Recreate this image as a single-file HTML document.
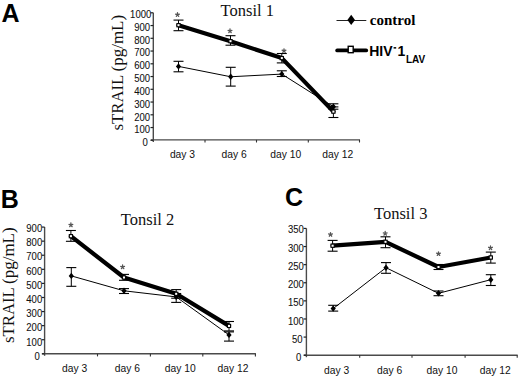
<!DOCTYPE html>
<html><head><meta charset="utf-8"><style>
html,body{margin:0;padding:0;background:#fff;width:520px;height:383px;overflow:hidden;}
svg{display:block;}
</style></head><body>
<svg width="520" height="383" viewBox="0 0 520 383">
<rect width="520" height="383" fill="#fff"/>
<line x1="153.3" y1="12.8" x2="153.3" y2="141.9" stroke="#4a4a4a" stroke-width="1.4" stroke-linecap="butt"/>
<line x1="150.8" y1="139.9" x2="360.0" y2="139.9" stroke="#4a4a4a" stroke-width="1.4" stroke-linecap="butt"/>
<line x1="150.5" y1="140.3" x2="153.3" y2="140.3" stroke="#222" stroke-width="1.2" stroke-linecap="butt"/>
<text transform="translate(147.70 146.30) scale(0.9 1)" style="font-family:&quot;Liberation Sans&quot;,sans-serif;font-size:10.6px" text-anchor="end" fill="#111" stroke="#111" stroke-width="0.08">0</text>
<line x1="150.5" y1="127.55000000000001" x2="153.3" y2="127.55000000000001" stroke="#222" stroke-width="1.2" stroke-linecap="butt"/>
<text transform="translate(150.10 133.45) scale(0.9 1)" style="font-family:&quot;Liberation Sans&quot;,sans-serif;font-size:10.6px" text-anchor="end" fill="#111" stroke="#111" stroke-width="0.08">100</text>
<line x1="150.5" y1="114.80000000000001" x2="153.3" y2="114.80000000000001" stroke="#222" stroke-width="1.2" stroke-linecap="butt"/>
<text transform="translate(150.10 120.60) scale(0.9 1)" style="font-family:&quot;Liberation Sans&quot;,sans-serif;font-size:10.6px" text-anchor="end" fill="#111" stroke="#111" stroke-width="0.08">200</text>
<line x1="150.5" y1="102.05000000000001" x2="153.3" y2="102.05000000000001" stroke="#222" stroke-width="1.2" stroke-linecap="butt"/>
<text transform="translate(150.10 107.75) scale(0.9 1)" style="font-family:&quot;Liberation Sans&quot;,sans-serif;font-size:10.6px" text-anchor="end" fill="#111" stroke="#111" stroke-width="0.08">300</text>
<line x1="150.5" y1="89.30000000000001" x2="153.3" y2="89.30000000000001" stroke="#222" stroke-width="1.2" stroke-linecap="butt"/>
<text transform="translate(150.10 94.90) scale(0.9 1)" style="font-family:&quot;Liberation Sans&quot;,sans-serif;font-size:10.6px" text-anchor="end" fill="#111" stroke="#111" stroke-width="0.08">400</text>
<line x1="150.5" y1="76.55000000000001" x2="153.3" y2="76.55000000000001" stroke="#222" stroke-width="1.2" stroke-linecap="butt"/>
<text transform="translate(150.10 82.05) scale(0.9 1)" style="font-family:&quot;Liberation Sans&quot;,sans-serif;font-size:10.6px" text-anchor="end" fill="#111" stroke="#111" stroke-width="0.08">500</text>
<line x1="150.5" y1="63.80000000000001" x2="153.3" y2="63.80000000000001" stroke="#222" stroke-width="1.2" stroke-linecap="butt"/>
<text transform="translate(150.10 69.20) scale(0.9 1)" style="font-family:&quot;Liberation Sans&quot;,sans-serif;font-size:10.6px" text-anchor="end" fill="#111" stroke="#111" stroke-width="0.08">600</text>
<line x1="150.5" y1="51.05000000000001" x2="153.3" y2="51.05000000000001" stroke="#222" stroke-width="1.2" stroke-linecap="butt"/>
<text transform="translate(150.10 56.35) scale(0.9 1)" style="font-family:&quot;Liberation Sans&quot;,sans-serif;font-size:10.6px" text-anchor="end" fill="#111" stroke="#111" stroke-width="0.08">700</text>
<line x1="150.5" y1="38.30000000000001" x2="153.3" y2="38.30000000000001" stroke="#222" stroke-width="1.2" stroke-linecap="butt"/>
<text transform="translate(150.10 43.50) scale(0.9 1)" style="font-family:&quot;Liberation Sans&quot;,sans-serif;font-size:10.6px" text-anchor="end" fill="#111" stroke="#111" stroke-width="0.08">800</text>
<line x1="150.5" y1="25.55000000000001" x2="153.3" y2="25.55000000000001" stroke="#222" stroke-width="1.2" stroke-linecap="butt"/>
<text transform="translate(150.10 30.65) scale(0.9 1)" style="font-family:&quot;Liberation Sans&quot;,sans-serif;font-size:10.6px" text-anchor="end" fill="#111" stroke="#111" stroke-width="0.08">900</text>
<line x1="150.5" y1="12.800000000000011" x2="153.3" y2="12.800000000000011" stroke="#222" stroke-width="1.2" stroke-linecap="butt"/>
<text transform="translate(151.30 17.80) scale(0.9 1)" style="font-family:&quot;Liberation Sans&quot;,sans-serif;font-size:10.6px" text-anchor="end" fill="#111" stroke="#111" stroke-width="0.08">1000</text>
<line x1="205" y1="139.9" x2="205" y2="142.5" stroke="#333" stroke-width="1.1" stroke-linecap="butt"/>
<line x1="256.5" y1="139.9" x2="256.5" y2="142.5" stroke="#333" stroke-width="1.1" stroke-linecap="butt"/>
<line x1="308.3" y1="139.9" x2="308.3" y2="142.5" stroke="#333" stroke-width="1.1" stroke-linecap="butt"/>
<line x1="359.5" y1="139.9" x2="359.5" y2="142.5" stroke="#333" stroke-width="1.1" stroke-linecap="butt"/>
<text x="182.5" y="158.1" style="font-family:&quot;Liberation Sans&quot;,sans-serif;font-size:10.3px;font-weight:normal" text-anchor="middle" fill="#111" >day 3</text>
<text x="234.1" y="158.1" style="font-family:&quot;Liberation Sans&quot;,sans-serif;font-size:10.3px;font-weight:normal" text-anchor="middle" fill="#111" >day 6</text>
<text x="285.8" y="158.1" style="font-family:&quot;Liberation Sans&quot;,sans-serif;font-size:10.3px;font-weight:normal" text-anchor="middle" fill="#111" >day 10</text>
<text x="337.7" y="158.1" style="font-family:&quot;Liberation Sans&quot;,sans-serif;font-size:10.3px;font-weight:normal" text-anchor="middle" fill="#111" >day 12</text>
<line x1="178.5" y1="61.3" x2="178.5" y2="71.8" stroke="#000" stroke-width="1" stroke-linecap="butt"/>
<line x1="173.5" y1="61.3" x2="183.5" y2="61.3" stroke="#000" stroke-width="1.1" stroke-linecap="butt"/>
<line x1="173.5" y1="71.8" x2="183.5" y2="71.8" stroke="#000" stroke-width="1.1" stroke-linecap="butt"/>
<line x1="230.7" y1="67.3" x2="230.7" y2="86.1" stroke="#000" stroke-width="1" stroke-linecap="butt"/>
<line x1="225.7" y1="67.3" x2="235.7" y2="67.3" stroke="#000" stroke-width="1.1" stroke-linecap="butt"/>
<line x1="225.7" y1="86.1" x2="235.7" y2="86.1" stroke="#000" stroke-width="1.1" stroke-linecap="butt"/>
<line x1="281.8" y1="70.8" x2="281.8" y2="76.5" stroke="#000" stroke-width="1" stroke-linecap="butt"/>
<line x1="276.8" y1="70.8" x2="286.8" y2="70.8" stroke="#000" stroke-width="1.1" stroke-linecap="butt"/>
<line x1="276.8" y1="76.5" x2="286.8" y2="76.5" stroke="#000" stroke-width="1.1" stroke-linecap="butt"/>
<line x1="333.4" y1="103.8" x2="333.4" y2="109.2" stroke="#000" stroke-width="1" stroke-linecap="butt"/>
<line x1="328.4" y1="103.8" x2="338.4" y2="103.8" stroke="#000" stroke-width="1.1" stroke-linecap="butt"/>
<line x1="328.4" y1="109.2" x2="338.4" y2="109.2" stroke="#000" stroke-width="1.1" stroke-linecap="butt"/>
<line x1="178.5" y1="20.1" x2="178.5" y2="30.7" stroke="#000" stroke-width="1" stroke-linecap="butt"/>
<line x1="173.5" y1="20.1" x2="183.5" y2="20.1" stroke="#000" stroke-width="1.1" stroke-linecap="butt"/>
<line x1="173.5" y1="30.7" x2="183.5" y2="30.7" stroke="#000" stroke-width="1.1" stroke-linecap="butt"/>
<line x1="230.5" y1="35.7" x2="230.5" y2="45.2" stroke="#000" stroke-width="1" stroke-linecap="butt"/>
<line x1="225.5" y1="35.7" x2="235.5" y2="35.7" stroke="#000" stroke-width="1.1" stroke-linecap="butt"/>
<line x1="225.5" y1="45.2" x2="235.5" y2="45.2" stroke="#000" stroke-width="1.1" stroke-linecap="butt"/>
<line x1="281.8" y1="53.5" x2="281.8" y2="62.9" stroke="#000" stroke-width="1" stroke-linecap="butt"/>
<line x1="276.8" y1="53.5" x2="286.8" y2="53.5" stroke="#000" stroke-width="1.1" stroke-linecap="butt"/>
<line x1="276.8" y1="62.9" x2="286.8" y2="62.9" stroke="#000" stroke-width="1.1" stroke-linecap="butt"/>
<line x1="333.4" y1="106.9" x2="333.4" y2="117.5" stroke="#000" stroke-width="1" stroke-linecap="butt"/>
<line x1="328.4" y1="106.9" x2="338.4" y2="106.9" stroke="#000" stroke-width="1.1" stroke-linecap="butt"/>
<line x1="328.4" y1="117.5" x2="338.4" y2="117.5" stroke="#000" stroke-width="1.1" stroke-linecap="butt"/>
<polyline points="178.5,66.4 230.7,76.75 281.8,74.1 333.4,106.7" fill="none" stroke="#000" stroke-width="1" stroke-linejoin="round" stroke-linecap="round"/>
<polyline points="178.5,25.2 230.5,41.2 281.8,58.1 333.4,111.6" fill="none" stroke="#000" stroke-width="4.2" stroke-linejoin="round" stroke-linecap="round"/>
<path d="M178.5 63.2L181.1 66.4L178.5 69.60000000000001L175.9 66.4Z" fill="#000"/>
<path d="M230.7 73.55L233.29999999999998 76.75L230.7 79.95L228.1 76.75Z" fill="#000"/>
<path d="M281.8 70.89999999999999L284.40000000000003 74.1L281.8 77.3L279.2 74.1Z" fill="#000"/>
<path d="M333.4 103.5L336.0 106.7L333.4 109.9L330.79999999999995 106.7Z" fill="#000"/>
<rect x="176.9" y="23.599999999999998" width="3.2" height="3.2" fill="#fff" stroke="#000" stroke-width="1.1"/>
<rect x="228.9" y="39.6" width="3.2" height="3.2" fill="#fff" stroke="#000" stroke-width="1.1"/>
<rect x="280.2" y="56.5" width="3.2" height="3.2" fill="#fff" stroke="#000" stroke-width="1.1"/>
<rect x="331.79999999999995" y="110.0" width="3.2" height="3.2" fill="#fff" stroke="#000" stroke-width="1.1"/>
<path d="M177.50 14.70L177.50 12.70M177.50 14.70L179.40 14.08M177.50 14.70L178.68 16.32M177.50 14.70L176.32 16.32M177.50 14.70L175.60 14.08" stroke="#555" stroke-width="1.3" stroke-linecap="round" fill="none"/>
<path d="M230.00 31.00L230.00 29.00M230.00 31.00L231.90 30.38M230.00 31.00L231.18 32.62M230.00 31.00L228.82 32.62M230.00 31.00L228.10 30.38" stroke="#555" stroke-width="1.3" stroke-linecap="round" fill="none"/>
<path d="M284.00 50.80L284.00 48.80M284.00 50.80L285.90 50.18M284.00 50.80L285.18 52.42M284.00 50.80L282.82 52.42M284.00 50.80L282.10 50.18" stroke="#555" stroke-width="1.3" stroke-linecap="round" fill="none"/>
<text x="247.3" y="15.7" style="font-family:&quot;Liberation Serif&quot;,serif;font-size:16.5px;font-weight:normal" text-anchor="middle" fill="#111" >Tonsil 1</text>
<text transform="translate(123.1 130.6) rotate(-90) scale(1 0.95)" x="0" y="0" style="font-family:&quot;Liberation Serif&quot;,serif;font-size:16.8px" fill="#111">sTRAIL</text>
<text transform="translate(123.1 71.5) rotate(-90) scale(1 0.95)" x="0" y="0" style="font-family:&quot;Liberation Serif&quot;,serif;font-size:17.0px" fill="#111">(pg/mL)</text>
<text x="1.5" y="22" style="font-family:&quot;Liberation Sans&quot;,sans-serif;font-size:25px;font-weight:bold" text-anchor="start" fill="#000" >A</text>
<line x1="44.6" y1="227" x2="44.6" y2="355.8" stroke="#4a4a4a" stroke-width="1.4" stroke-linecap="butt"/>
<line x1="42.1" y1="353.8" x2="255.9" y2="353.8" stroke="#4a4a4a" stroke-width="1.4" stroke-linecap="butt"/>
<line x1="41.800000000000004" y1="353.8" x2="44.6" y2="353.8" stroke="#222" stroke-width="1.2" stroke-linecap="butt"/>
<text transform="translate(39.80 359.80) scale(0.9 1)" style="font-family:&quot;Liberation Sans&quot;,sans-serif;font-size:10.6px" text-anchor="end" fill="#111" stroke="#111" stroke-width="0.08">0</text>
<line x1="41.800000000000004" y1="339.72" x2="44.6" y2="339.72" stroke="#222" stroke-width="1.2" stroke-linecap="butt"/>
<text transform="translate(42.20 345.61) scale(0.9 1)" style="font-family:&quot;Liberation Sans&quot;,sans-serif;font-size:10.6px" text-anchor="end" fill="#111" stroke="#111" stroke-width="0.08">100</text>
<line x1="41.800000000000004" y1="325.64" x2="44.6" y2="325.64" stroke="#222" stroke-width="1.2" stroke-linecap="butt"/>
<text transform="translate(42.20 331.42) scale(0.9 1)" style="font-family:&quot;Liberation Sans&quot;,sans-serif;font-size:10.6px" text-anchor="end" fill="#111" stroke="#111" stroke-width="0.08">200</text>
<line x1="41.800000000000004" y1="311.56" x2="44.6" y2="311.56" stroke="#222" stroke-width="1.2" stroke-linecap="butt"/>
<text transform="translate(42.20 317.23) scale(0.9 1)" style="font-family:&quot;Liberation Sans&quot;,sans-serif;font-size:10.6px" text-anchor="end" fill="#111" stroke="#111" stroke-width="0.08">300</text>
<line x1="41.800000000000004" y1="297.48" x2="44.6" y2="297.48" stroke="#222" stroke-width="1.2" stroke-linecap="butt"/>
<text transform="translate(42.20 303.04) scale(0.9 1)" style="font-family:&quot;Liberation Sans&quot;,sans-serif;font-size:10.6px" text-anchor="end" fill="#111" stroke="#111" stroke-width="0.08">400</text>
<line x1="41.800000000000004" y1="283.4" x2="44.6" y2="283.4" stroke="#222" stroke-width="1.2" stroke-linecap="butt"/>
<text transform="translate(42.20 288.84) scale(0.9 1)" style="font-family:&quot;Liberation Sans&quot;,sans-serif;font-size:10.6px" text-anchor="end" fill="#111" stroke="#111" stroke-width="0.08">500</text>
<line x1="41.800000000000004" y1="269.32" x2="44.6" y2="269.32" stroke="#222" stroke-width="1.2" stroke-linecap="butt"/>
<text transform="translate(42.20 274.65) scale(0.9 1)" style="font-family:&quot;Liberation Sans&quot;,sans-serif;font-size:10.6px" text-anchor="end" fill="#111" stroke="#111" stroke-width="0.08">600</text>
<line x1="41.800000000000004" y1="255.24" x2="44.6" y2="255.24" stroke="#222" stroke-width="1.2" stroke-linecap="butt"/>
<text transform="translate(42.20 260.46) scale(0.9 1)" style="font-family:&quot;Liberation Sans&quot;,sans-serif;font-size:10.6px" text-anchor="end" fill="#111" stroke="#111" stroke-width="0.08">700</text>
<line x1="41.800000000000004" y1="241.16000000000003" x2="44.6" y2="241.16000000000003" stroke="#222" stroke-width="1.2" stroke-linecap="butt"/>
<text transform="translate(42.20 246.27) scale(0.9 1)" style="font-family:&quot;Liberation Sans&quot;,sans-serif;font-size:10.6px" text-anchor="end" fill="#111" stroke="#111" stroke-width="0.08">800</text>
<line x1="41.800000000000004" y1="227.08" x2="44.6" y2="227.08" stroke="#222" stroke-width="1.2" stroke-linecap="butt"/>
<text transform="translate(42.20 232.08) scale(0.9 1)" style="font-family:&quot;Liberation Sans&quot;,sans-serif;font-size:10.6px" text-anchor="end" fill="#111" stroke="#111" stroke-width="0.08">900</text>
<line x1="97.5" y1="353.8" x2="97.5" y2="356.40000000000003" stroke="#333" stroke-width="1.1" stroke-linecap="butt"/>
<line x1="150.4" y1="353.8" x2="150.4" y2="356.40000000000003" stroke="#333" stroke-width="1.1" stroke-linecap="butt"/>
<line x1="202.8" y1="353.8" x2="202.8" y2="356.40000000000003" stroke="#333" stroke-width="1.1" stroke-linecap="butt"/>
<line x1="255.4" y1="353.8" x2="255.4" y2="356.40000000000003" stroke="#333" stroke-width="1.1" stroke-linecap="butt"/>
<text x="74.6" y="372.3" style="font-family:&quot;Liberation Sans&quot;,sans-serif;font-size:10.3px;font-weight:normal" text-anchor="middle" fill="#111" >day 3</text>
<text x="127.3" y="372.3" style="font-family:&quot;Liberation Sans&quot;,sans-serif;font-size:10.3px;font-weight:normal" text-anchor="middle" fill="#111" >day 6</text>
<text x="180.2" y="372.3" style="font-family:&quot;Liberation Sans&quot;,sans-serif;font-size:10.3px;font-weight:normal" text-anchor="middle" fill="#111" >day 10</text>
<text x="233" y="372.3" style="font-family:&quot;Liberation Sans&quot;,sans-serif;font-size:10.3px;font-weight:normal" text-anchor="middle" fill="#111" >day 12</text>
<line x1="71.3" y1="267.6" x2="71.3" y2="286.3" stroke="#000" stroke-width="1" stroke-linecap="butt"/>
<line x1="66.3" y1="267.6" x2="76.3" y2="267.6" stroke="#000" stroke-width="1.1" stroke-linecap="butt"/>
<line x1="66.3" y1="286.3" x2="76.3" y2="286.3" stroke="#000" stroke-width="1.1" stroke-linecap="butt"/>
<line x1="124" y1="288.6" x2="124" y2="293.5" stroke="#000" stroke-width="1" stroke-linecap="butt"/>
<line x1="119" y1="288.6" x2="129" y2="288.6" stroke="#000" stroke-width="1.1" stroke-linecap="butt"/>
<line x1="119" y1="293.5" x2="129" y2="293.5" stroke="#000" stroke-width="1.1" stroke-linecap="butt"/>
<line x1="176.2" y1="293.5" x2="176.2" y2="302.4" stroke="#000" stroke-width="1" stroke-linecap="butt"/>
<line x1="171.2" y1="293.5" x2="181.2" y2="293.5" stroke="#000" stroke-width="1.1" stroke-linecap="butt"/>
<line x1="171.2" y1="302.4" x2="181.2" y2="302.4" stroke="#000" stroke-width="1.1" stroke-linecap="butt"/>
<line x1="229" y1="331.9" x2="229" y2="341.1" stroke="#000" stroke-width="1" stroke-linecap="butt"/>
<line x1="224" y1="331.9" x2="234" y2="331.9" stroke="#000" stroke-width="1.1" stroke-linecap="butt"/>
<line x1="224" y1="341.1" x2="234" y2="341.1" stroke="#000" stroke-width="1.1" stroke-linecap="butt"/>
<line x1="70.9" y1="230.5" x2="70.9" y2="241.3" stroke="#000" stroke-width="1" stroke-linecap="butt"/>
<line x1="65.9" y1="230.5" x2="75.9" y2="230.5" stroke="#000" stroke-width="1.1" stroke-linecap="butt"/>
<line x1="65.9" y1="241.3" x2="75.9" y2="241.3" stroke="#000" stroke-width="1.1" stroke-linecap="butt"/>
<line x1="124" y1="274.4" x2="124" y2="280.3" stroke="#000" stroke-width="1" stroke-linecap="butt"/>
<line x1="119" y1="274.4" x2="129" y2="274.4" stroke="#000" stroke-width="1.1" stroke-linecap="butt"/>
<line x1="119" y1="280.3" x2="129" y2="280.3" stroke="#000" stroke-width="1.1" stroke-linecap="butt"/>
<line x1="176.2" y1="289.6" x2="176.2" y2="298.2" stroke="#000" stroke-width="1" stroke-linecap="butt"/>
<line x1="171.2" y1="289.6" x2="181.2" y2="289.6" stroke="#000" stroke-width="1.1" stroke-linecap="butt"/>
<line x1="171.2" y1="298.2" x2="181.2" y2="298.2" stroke="#000" stroke-width="1.1" stroke-linecap="butt"/>
<line x1="229" y1="321.5" x2="229" y2="330.9" stroke="#000" stroke-width="1" stroke-linecap="butt"/>
<line x1="224" y1="321.5" x2="234" y2="321.5" stroke="#000" stroke-width="1.1" stroke-linecap="butt"/>
<line x1="224" y1="330.9" x2="234" y2="330.9" stroke="#000" stroke-width="1.1" stroke-linecap="butt"/>
<polyline points="71.3,275.9 124,290.8 176.2,296.9 229,334.9" fill="none" stroke="#000" stroke-width="1" stroke-linejoin="round" stroke-linecap="round"/>
<polyline points="70.9,236.2 124,277.5 176.2,293.8 229,325.9" fill="none" stroke="#000" stroke-width="4.2" stroke-linejoin="round" stroke-linecap="round"/>
<path d="M71.3 272.7L73.89999999999999 275.9L71.3 279.09999999999997L68.7 275.9Z" fill="#000"/>
<path d="M124 287.6L126.6 290.8L124 294.0L121.4 290.8Z" fill="#000"/>
<path d="M176.2 293.7L178.79999999999998 296.9L176.2 300.09999999999997L173.6 296.9Z" fill="#000"/>
<path d="M229 331.7L231.6 334.9L229 338.09999999999997L226.4 334.9Z" fill="#000"/>
<rect x="69.30000000000001" y="234.6" width="3.2" height="3.2" fill="#fff" stroke="#000" stroke-width="1.1"/>
<rect x="122.4" y="275.9" width="3.2" height="3.2" fill="#fff" stroke="#000" stroke-width="1.1"/>
<rect x="174.6" y="292.2" width="3.2" height="3.2" fill="#fff" stroke="#000" stroke-width="1.1"/>
<rect x="227.4" y="324.29999999999995" width="3.2" height="3.2" fill="#fff" stroke="#000" stroke-width="1.1"/>
<path d="M70.90 225.00L70.90 223.00M70.90 225.00L72.80 224.38M70.90 225.00L72.08 226.62M70.90 225.00L69.72 226.62M70.90 225.00L69.00 224.38" stroke="#555" stroke-width="1.3" stroke-linecap="round" fill="none"/>
<path d="M122.60 267.00L122.60 265.00M122.60 267.00L124.50 266.38M122.60 267.00L123.78 268.62M122.60 267.00L121.42 268.62M122.60 267.00L120.70 266.38" stroke="#555" stroke-width="1.3" stroke-linecap="round" fill="none"/>
<text x="147.5" y="224.6" style="font-family:&quot;Liberation Serif&quot;,serif;font-size:16.5px;font-weight:normal" text-anchor="middle" fill="#111" >Tonsil 2</text>
<text transform="translate(14.2 343.1) rotate(-90) scale(1 0.95)" x="0" y="0" style="font-family:&quot;Liberation Serif&quot;,serif;font-size:16.8px" fill="#111">sTRAIL</text>
<text transform="translate(14.2 284) rotate(-90) scale(1 0.95)" x="0" y="0" style="font-family:&quot;Liberation Serif&quot;,serif;font-size:17.0px" fill="#111">(pg/mL)</text>
<text x="0.7" y="207.5" style="font-family:&quot;Liberation Sans&quot;,sans-serif;font-size:25px;font-weight:bold" text-anchor="start" fill="#000" >B</text>
<line x1="306.4" y1="228.4" x2="306.4" y2="357.2" stroke="#4a4a4a" stroke-width="1.4" stroke-linecap="butt"/>
<line x1="303.9" y1="355.2" x2="517.7" y2="355.2" stroke="#4a4a4a" stroke-width="1.4" stroke-linecap="butt"/>
<line x1="303.59999999999997" y1="355.2" x2="306.4" y2="355.2" stroke="#222" stroke-width="1.2" stroke-linecap="butt"/>
<text transform="translate(301.40 361.20) scale(0.9 1)" style="font-family:&quot;Liberation Sans&quot;,sans-serif;font-size:10.6px" text-anchor="end" fill="#111" stroke="#111" stroke-width="0.08">0</text>
<line x1="303.59999999999997" y1="337.09" x2="306.4" y2="337.09" stroke="#222" stroke-width="1.2" stroke-linecap="butt"/>
<text transform="translate(302.60 342.95) scale(0.9 1)" style="font-family:&quot;Liberation Sans&quot;,sans-serif;font-size:10.6px" text-anchor="end" fill="#111" stroke="#111" stroke-width="0.08">50</text>
<line x1="303.59999999999997" y1="318.98" x2="306.4" y2="318.98" stroke="#222" stroke-width="1.2" stroke-linecap="butt"/>
<text transform="translate(303.80 324.69) scale(0.9 1)" style="font-family:&quot;Liberation Sans&quot;,sans-serif;font-size:10.6px" text-anchor="end" fill="#111" stroke="#111" stroke-width="0.08">100</text>
<line x1="303.59999999999997" y1="300.87" x2="306.4" y2="300.87" stroke="#222" stroke-width="1.2" stroke-linecap="butt"/>
<text transform="translate(303.80 306.44) scale(0.9 1)" style="font-family:&quot;Liberation Sans&quot;,sans-serif;font-size:10.6px" text-anchor="end" fill="#111" stroke="#111" stroke-width="0.08">150</text>
<line x1="303.59999999999997" y1="282.76" x2="306.4" y2="282.76" stroke="#222" stroke-width="1.2" stroke-linecap="butt"/>
<text transform="translate(303.80 288.19) scale(0.9 1)" style="font-family:&quot;Liberation Sans&quot;,sans-serif;font-size:10.6px" text-anchor="end" fill="#111" stroke="#111" stroke-width="0.08">200</text>
<line x1="303.59999999999997" y1="264.65" x2="306.4" y2="264.65" stroke="#222" stroke-width="1.2" stroke-linecap="butt"/>
<text transform="translate(303.80 269.94) scale(0.9 1)" style="font-family:&quot;Liberation Sans&quot;,sans-serif;font-size:10.6px" text-anchor="end" fill="#111" stroke="#111" stroke-width="0.08">250</text>
<line x1="303.59999999999997" y1="246.54" x2="306.4" y2="246.54" stroke="#222" stroke-width="1.2" stroke-linecap="butt"/>
<text transform="translate(303.80 251.68) scale(0.9 1)" style="font-family:&quot;Liberation Sans&quot;,sans-serif;font-size:10.6px" text-anchor="end" fill="#111" stroke="#111" stroke-width="0.08">300</text>
<line x1="303.59999999999997" y1="228.43" x2="306.4" y2="228.43" stroke="#222" stroke-width="1.2" stroke-linecap="butt"/>
<text transform="translate(303.80 233.43) scale(0.9 1)" style="font-family:&quot;Liberation Sans&quot;,sans-serif;font-size:10.6px" text-anchor="end" fill="#111" stroke="#111" stroke-width="0.08">350</text>
<line x1="359.7" y1="355.2" x2="359.7" y2="357.8" stroke="#333" stroke-width="1.1" stroke-linecap="butt"/>
<line x1="412" y1="355.2" x2="412" y2="357.8" stroke="#333" stroke-width="1.1" stroke-linecap="butt"/>
<line x1="465.1" y1="355.2" x2="465.1" y2="357.8" stroke="#333" stroke-width="1.1" stroke-linecap="butt"/>
<line x1="517.2" y1="355.2" x2="517.2" y2="357.8" stroke="#333" stroke-width="1.1" stroke-linecap="butt"/>
<text x="336.7" y="374" style="font-family:&quot;Liberation Sans&quot;,sans-serif;font-size:10.3px;font-weight:normal" text-anchor="middle" fill="#111" >day 3</text>
<text x="389.6" y="374" style="font-family:&quot;Liberation Sans&quot;,sans-serif;font-size:10.3px;font-weight:normal" text-anchor="middle" fill="#111" >day 6</text>
<text x="441.9" y="374" style="font-family:&quot;Liberation Sans&quot;,sans-serif;font-size:10.3px;font-weight:normal" text-anchor="middle" fill="#111" >day 10</text>
<text x="495.2" y="374" style="font-family:&quot;Liberation Sans&quot;,sans-serif;font-size:10.3px;font-weight:normal" text-anchor="middle" fill="#111" >day 12</text>
<line x1="333.2" y1="305.3" x2="333.2" y2="311.1" stroke="#000" stroke-width="1" stroke-linecap="butt"/>
<line x1="328.2" y1="305.3" x2="338.2" y2="305.3" stroke="#000" stroke-width="1.1" stroke-linecap="butt"/>
<line x1="328.2" y1="311.1" x2="338.2" y2="311.1" stroke="#000" stroke-width="1.1" stroke-linecap="butt"/>
<line x1="386" y1="262.6" x2="386" y2="273.3" stroke="#000" stroke-width="1" stroke-linecap="butt"/>
<line x1="381" y1="262.6" x2="391" y2="262.6" stroke="#000" stroke-width="1.1" stroke-linecap="butt"/>
<line x1="381" y1="273.3" x2="391" y2="273.3" stroke="#000" stroke-width="1.1" stroke-linecap="butt"/>
<line x1="438.5" y1="291" x2="438.5" y2="295.7" stroke="#000" stroke-width="1" stroke-linecap="butt"/>
<line x1="433.5" y1="291" x2="443.5" y2="291" stroke="#000" stroke-width="1.1" stroke-linecap="butt"/>
<line x1="433.5" y1="295.7" x2="443.5" y2="295.7" stroke="#000" stroke-width="1.1" stroke-linecap="butt"/>
<line x1="490.8" y1="274.7" x2="490.8" y2="285.5" stroke="#000" stroke-width="1" stroke-linecap="butt"/>
<line x1="485.8" y1="274.7" x2="495.8" y2="274.7" stroke="#000" stroke-width="1.1" stroke-linecap="butt"/>
<line x1="485.8" y1="285.5" x2="495.8" y2="285.5" stroke="#000" stroke-width="1.1" stroke-linecap="butt"/>
<line x1="332.6" y1="240.4" x2="332.6" y2="251.2" stroke="#000" stroke-width="1" stroke-linecap="butt"/>
<line x1="327.6" y1="240.4" x2="337.6" y2="240.4" stroke="#000" stroke-width="1.1" stroke-linecap="butt"/>
<line x1="327.6" y1="251.2" x2="337.6" y2="251.2" stroke="#000" stroke-width="1.1" stroke-linecap="butt"/>
<line x1="385.5" y1="236.8" x2="385.5" y2="247.7" stroke="#000" stroke-width="1" stroke-linecap="butt"/>
<line x1="380.5" y1="236.8" x2="390.5" y2="236.8" stroke="#000" stroke-width="1.1" stroke-linecap="butt"/>
<line x1="380.5" y1="247.7" x2="390.5" y2="247.7" stroke="#000" stroke-width="1.1" stroke-linecap="butt"/>
<line x1="438.5" y1="264.5" x2="438.5" y2="269.5" stroke="#000" stroke-width="1" stroke-linecap="butt"/>
<line x1="433.5" y1="264.5" x2="443.5" y2="264.5" stroke="#000" stroke-width="1.1" stroke-linecap="butt"/>
<line x1="433.5" y1="269.5" x2="443.5" y2="269.5" stroke="#000" stroke-width="1.1" stroke-linecap="butt"/>
<line x1="490.8" y1="252.1" x2="490.8" y2="263.1" stroke="#000" stroke-width="1" stroke-linecap="butt"/>
<line x1="485.8" y1="252.1" x2="495.8" y2="252.1" stroke="#000" stroke-width="1.1" stroke-linecap="butt"/>
<line x1="485.8" y1="263.1" x2="495.8" y2="263.1" stroke="#000" stroke-width="1.1" stroke-linecap="butt"/>
<polyline points="333.2,308.6 386,267.7 438.5,293.3 490.8,279.7" fill="none" stroke="#000" stroke-width="1" stroke-linejoin="round" stroke-linecap="round"/>
<polyline points="332.6,245.7 385.5,241.8 438.5,267 490.8,257.5" fill="none" stroke="#000" stroke-width="4.2" stroke-linejoin="round" stroke-linecap="round"/>
<path d="M333.2 305.40000000000003L335.8 308.6L333.2 311.8L330.59999999999997 308.6Z" fill="#000"/>
<path d="M386 264.5L388.6 267.7L386 270.9L383.4 267.7Z" fill="#000"/>
<path d="M438.5 290.1L441.1 293.3L438.5 296.5L435.9 293.3Z" fill="#000"/>
<path d="M490.8 276.5L493.40000000000003 279.7L490.8 282.9L488.2 279.7Z" fill="#000"/>
<rect x="331.0" y="244.1" width="3.2" height="3.2" fill="#fff" stroke="#000" stroke-width="1.1"/>
<rect x="383.9" y="240.20000000000002" width="3.2" height="3.2" fill="#fff" stroke="#000" stroke-width="1.1"/>
<rect x="436.9" y="265.4" width="3.2" height="3.2" fill="#fff" stroke="#000" stroke-width="1.1"/>
<rect x="489.2" y="255.9" width="3.2" height="3.2" fill="#fff" stroke="#000" stroke-width="1.1"/>
<path d="M330.50 234.60L330.50 232.60M330.50 234.60L332.40 233.98M330.50 234.60L331.68 236.22M330.50 234.60L329.32 236.22M330.50 234.60L328.60 233.98" stroke="#555" stroke-width="1.3" stroke-linecap="round" fill="none"/>
<path d="M385.20 233.50L385.20 231.50M385.20 233.50L387.10 232.88M385.20 233.50L386.38 235.12M385.20 233.50L384.02 235.12M385.20 233.50L383.30 232.88" stroke="#555" stroke-width="1.3" stroke-linecap="round" fill="none"/>
<path d="M438.50 253.80L438.50 251.80M438.50 253.80L440.40 253.18M438.50 253.80L439.68 255.42M438.50 253.80L437.32 255.42M438.50 253.80L436.60 253.18" stroke="#555" stroke-width="1.3" stroke-linecap="round" fill="none"/>
<path d="M490.50 247.90L490.50 245.90M490.50 247.90L492.40 247.28M490.50 247.90L491.68 249.52M490.50 247.90L489.32 249.52M490.50 247.90L488.60 247.28" stroke="#555" stroke-width="1.3" stroke-linecap="round" fill="none"/>
<text x="400.7" y="218.8" style="font-family:&quot;Liberation Serif&quot;,serif;font-size:16.5px;font-weight:normal" text-anchor="middle" fill="#111" >Tonsil 3</text>
<text x="284.9" y="205.6" style="font-family:&quot;Liberation Sans&quot;,sans-serif;font-size:25px;font-weight:bold" text-anchor="start" fill="#000" >C</text>
<line x1="336.5" y1="20.5" x2="366.3" y2="20.5" stroke="#222" stroke-width="1" stroke-linecap="butt"/>
<path d="M351.2 14.7L355.0 19.9L351.2 25.099999999999998L347.4 19.9Z" fill="#000"/>
<line x1="337.2" y1="50.4" x2="366.2" y2="50.4" stroke="#000" stroke-width="3.8" stroke-linecap="round"/>
<rect x="348.2" y="46.3" width="5" height="6.4" fill="#fff" stroke="#000" stroke-width="1.4"/>
<text x="369.8" y="24.6" style="font-family:&quot;Liberation Serif&quot;,serif;font-size:15px;font-weight:bold" text-anchor="start" fill="#000" >control</text>
<text x="369.2" y="55.7" style="font-family:&quot;Liberation Sans&quot;,sans-serif;font-size:14px;font-weight:bold" text-anchor="start" fill="#000" >HIV</text>
<rect x="393.6" y="47.1" width="2.6" height="1.5" fill="#000"/>
<text x="397.4" y="55.7" style="font-family:&quot;Liberation Sans&quot;,sans-serif;font-size:14px;font-weight:bold" text-anchor="start" fill="#000" >1</text>
<text x="405.9" y="62.7" style="font-family:&quot;Liberation Sans&quot;,sans-serif;font-size:10px;font-weight:bold" text-anchor="start" fill="#000" >LAV</text>
</svg>
</body></html>
